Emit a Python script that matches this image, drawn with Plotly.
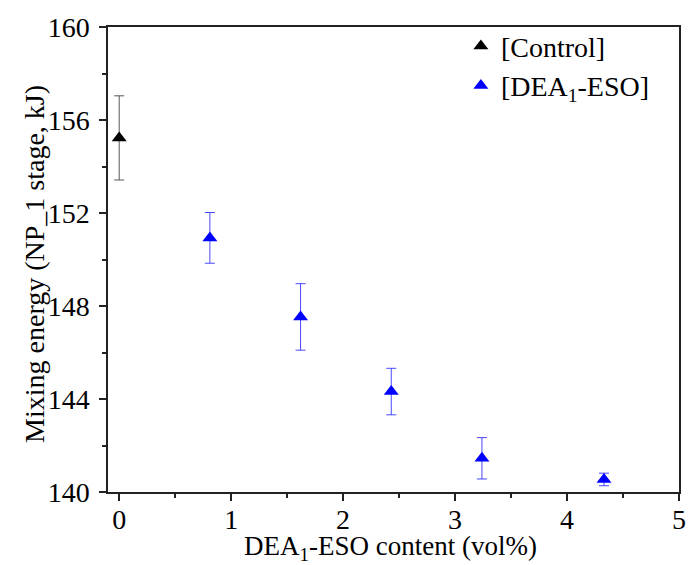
import plotly.graph_objects as go

control_x = [0]
control_y = [155.23]
control_err = [1.81]

dea_x = [0.81, 1.62, 2.43, 3.24, 4.33]
dea_y = [150.93, 147.53, 144.32, 141.45, 140.54]
dea_err = [1.09, 1.43, 1.0, 0.89, 0.27]

y_title = "Mixing energy (NP_1 stage, kJ)"
x_title = "DEA<sub>1</sub>-ESO content (vol%)"

font_family = "Times New Roman, Liberation Serif, serif"

fig = go.Figure()
fig.add_trace(go.Scatter(
    x=control_x, y=control_y, mode="markers", name="[Control]",
    marker=dict(symbol="triangle-up", size=13, color="black"),
    error_y=dict(type="data", array=control_err, color="#444444", thickness=0.9, width=5),
))
fig.add_trace(go.Scatter(
    x=dea_x, y=dea_y, mode="markers", name="[DEA<sub>1</sub>-ESO]",
    marker=dict(symbol="triangle-up", size=13, color="blue"),
    error_y=dict(type="data", array=dea_err, color="#3333ff", thickness=0.9, width=5),
))

axis_common = dict(
    showline=True, linecolor="#222222", linewidth=1.5, mirror=True,
    ticks="outside", ticklen=7, tickwidth=1.5, tickcolor="#222222",
    showgrid=False, zeroline=False,
    tickfont=dict(family=font_family, size=28, color="black"),
)

fig.update_xaxes(
    range=[-0.1, 5], tick0=0, dtick=1,
    minor=dict(ticks="outside", ticklen=4, tickwidth=1.5, tickcolor="#222222", dtick=0.5, tick0=0),
    ticklabelstandoff=-5,
    **axis_common,
)
fig.update_yaxes(
    range=[140, 160], tick0=140, dtick=4,
    minor=dict(ticks="outside", ticklen=4, tickwidth=1.5, tickcolor="#222222", dtick=2, tick0=140),
    ticklabelstandoff=4,
    **axis_common,
)

fig.add_annotation(
    text=y_title, textangle=-90, xref="paper", yref="paper",
    x=-0.13, y=0.49, xanchor="center", yanchor="middle", showarrow=False,
    font=dict(family=font_family, size=28, color="black"),
)
fig.add_annotation(
    text=x_title, xref="paper", yref="paper",
    x=0.495, y=-0.079, xanchor="center", yanchor="top", showarrow=False,
    font=dict(family=font_family, size=27, color="black"),
)

fig.update_layout(
    width=693, height=565,
    margin=dict(l=108, r=7, t=27, b=73),
    plot_bgcolor="white", paper_bgcolor="white",
    font=dict(family=font_family, size=28, color="black"),
    legend=dict(x=0.618, y=1.012, xanchor="left", yanchor="top",
                font=dict(family=font_family, size=28, color="black"),
                bgcolor="rgba(0,0,0,0)", itemwidth=30, tracegroupgap=0),
    showlegend=True,
)

fig.write_html("out.html", post_script="document.body.style.margin='0';",
               config={"displayModeBar": False})
